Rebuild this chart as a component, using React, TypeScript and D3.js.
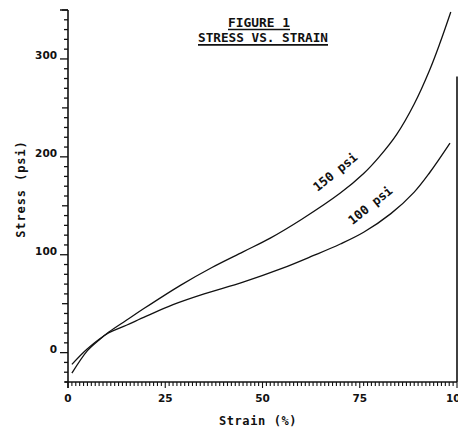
import React from "react";
import * as d3 from "d3";

const strain150 = [1, 5, 8, 10.5, 15, 19.5, 29, 37, 45, 52, 60, 70, 76, 80, 84.5, 89, 93, 95.6, 98.4];
const stress150 = [-21, 2, 13, 21, 33, 45, 69, 87, 103, 117, 136, 163, 183, 200, 223, 254, 289, 316, 348];
const strain100 = [1, 5, 10.4, 15, 20, 27, 35, 45, 55, 63, 70, 76, 83, 89, 93, 98.2];
const stress100 = [-12, 4, 20, 28, 37, 49, 60, 72, 86, 99, 111, 123, 142, 164, 184, 214];
const xTickLabels = [0, 25, 50, 75, 100];
const yTickLabels = [0, 100, 200, 300];
const seriesLabels = ["150 psi", "100 psi"];
const labelAnchors = [
  { x: 69.4, y: 181 },
  { x: 78.4, y: 147 },
];
const titleLines = ["FIGURE 1", "STRESS VS. STRAIN"];
const xTitle = "Strain (%)";
const yTitle = "Stress (psi)";

export default function App() {
  const W = 458;
  const H = 428;
  const x = d3.scaleLinear().domain([0, 100]).range([68, 457]);
  const y = d3.scaleLinear().domain([-30, 350]).range([382, 10]);
  const line = d3
    .line<[number, number]>()
    .x((d) => x(d[0]))
    .y((d) => y(d[1]))
    .curve(d3.curveCatmullRom.alpha(0.5));
  const s150: [number, number][] = strain150.map((v, i) => [v, stress150[i]]);
  const s100: [number, number][] = strain100.map((v, i) => [v, stress100[i]]);

  const xMinor = d3.range(0, 101, 1);
  const yMinor = d3.range(-30, 351, 10);
  const mono = "'DejaVu Sans Mono', monospace";
  const sans = "'DejaVu Sans', sans-serif";

  return (
    <svg
      width={W}
      height={H}
      style={{ position: "absolute", left: 0, top: 0, background: "#fff" }}
    >
      <rect width={W} height={H} fill="#fff" />
      {/* title */}
      <g fontFamily={mono} fontWeight="bold" fontSize={12.8} fill="#111">
        <text x={259} y={27} textAnchor="middle" textLength={62} lengthAdjust="spacingAndGlyphs">
          {titleLines[0]}
        </text>
        <line x1={228} x2={290} y1={29.5} y2={29.5} stroke="#111" strokeWidth={1.6} />
        <text x={263} y={42} textAnchor="middle" textLength={130} lengthAdjust="spacingAndGlyphs">
          {titleLines[1]}
        </text>
        <line x1={198} x2={328} y1={44.8} y2={44.8} stroke="#111" strokeWidth={1.8} />
      </g>

      {/* y axis */}
      <line x1={x(0)} x2={x(0)} y1={y(350)} y2={y(-30) + 6} stroke="#111" strokeWidth={1.6} />
      {yMinor.map((v) => {
        const len = v % 100 === 0 ? 8 : v % 50 === 0 ? 6 : 4;
        return (
          <line key={"yt" + v} x1={x(0) - len} x2={x(0)} y1={y(v)} y2={y(v)} stroke="#111" strokeWidth={1.3} />
        );
      })}
      <line x1={x(0) - 8} x2={x(0)} y1={y(350)} y2={y(350)} stroke="#111" strokeWidth={1.5} />
      {yTickLabels.map((v) => (
        <text
          key={"yl" + v}
          x={x(0) - 11}
          y={y(v) + 0.5}
          textAnchor="end"
          fontFamily={sans}
          fontWeight="bold"
          fontSize={10.5}
          fill="#111"
        >
          {v}
        </text>
      ))}

      {/* x axis */}
      <line x1={x(0) - 3} x2={x(100)} y1={y(-30)} y2={y(-30)} stroke="#111" strokeWidth={1.6} />
      {xMinor.map((v) => {
        const len = v % 25 === 0 ? 6 : 4;
        return (
          <line key={"xt" + v} x1={x(v)} x2={x(v)} y1={y(-30)} y2={y(-30) + len} stroke="#111" strokeWidth={1.1} />
        );
      })}
      {xTickLabels.map((v) => (
        <text
          key={"xl" + v}
          x={x(v)}
          y={402}
          textAnchor="middle"
          fontFamily={sans}
          fontWeight="bold"
          fontSize={10.5}
          fill="#111"
        >
          {v}
        </text>
      ))}

      {/* right frame fragment */}
      <line x1={x(100)} x2={x(100)} y1={y(282)} y2={y(-30)} stroke="#111" strokeWidth={1.6} />

      {/* axis titles */}
      <text
        x={258}
        y={425}
        textAnchor="middle"
        fontFamily={mono}
        fontWeight="bold"
        fontSize={12}
        letterSpacing={0.6}
        fill="#111"
      >
        {xTitle}
      </text>
      <text
        transform="translate(25,189) rotate(-90)"
        textAnchor="middle"
        fontFamily={mono}
        fontWeight="bold"
        fontSize={12}
        letterSpacing={0.9}
        fill="#111"
      >
        {yTitle}
      </text>

      {/* curves */}
      <path d={line(s150) ?? ""} fill="none" stroke="#111" strokeWidth={1.3} />
      <path d={line(s100) ?? ""} fill="none" stroke="#111" strokeWidth={1.3} />

      {/* curve labels */}
      {seriesLabels.map((t, i) => (
        <text
          key={t}
          transform={`translate(${x(labelAnchors[i].x)},${y(labelAnchors[i].y)}) rotate(-39)`}
          textAnchor="middle"
          fontFamily={mono}
          fontWeight="bold"
          fontSize={12.5}
          fill="#111"
        >
          {t}
        </text>
      ))}
    </svg>
  );
}
